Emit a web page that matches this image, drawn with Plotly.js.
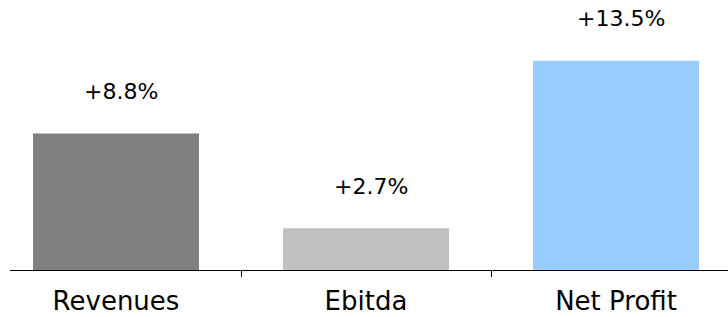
<!DOCTYPE html>
<html>
<head>
<meta charset="utf-8">
<script src="https://cdn.plot.ly/plotly-3.0.1.min.js"></script>
<style>html,body{margin:0;padding:0;background:#fff;}#chart{width:728px;height:317px;}</style>
</head>
<body>
<div id="chart"></div>
<script>
const categories = ["Revenues", "Ebitda", "Net Profit"];
const growthValues = [8.8, 2.7, 13.5];
const growthLabels = ["+8.8%", "+2.7%", "+13.5%"];
const barColors = ["#808080", "#c0c0c0", "#99ccff"];

const trace = {
  type: "bar",
  x: categories,
  y: growthValues,
  width: 0.664,
  marker: {color: barColors, line: {width: 0}},
  hoverinfo: "none"
};

const annotations = categories.map((c, i) => ({
  x: c, y: growthValues[i], xref: "x", yref: "y",
  text: growthLabels[i], showarrow: false,
  yanchor: "middle", yshift: 42, xshift: 5,
  font: {family: "DejaVu Sans, sans-serif", size: 22, color: "#000"}
}));

const layout = {
  width: 728, height: 317,
  margin: {l: 10, r: 0, t: 0, b: 47},
  paper_bgcolor: "#fff", plot_bgcolor: "#fff",
  showlegend: false,
  xaxis: {
    type: "category",
    range: [-0.424, 2.448],
    tickson: "boundaries",
    ticks: "outside", ticklen: 6, tickwidth: 1, tickcolor: "#000",
    ticklabelstandoff: 8,
    showline: true, linecolor: "#000", linewidth: 1,
    showgrid: false, zeroline: false,
    tickfont: {family: "DejaVu Sans, sans-serif", size: 26, color: "#000"},
    fixedrange: true
  },
  yaxis: {
    range: [0, 270 / 15.5],
    visible: false, showgrid: false, zeroline: false, fixedrange: true
  },
  annotations: annotations
};

Plotly.newPlot("chart", [trace], layout, {displayModeBar: false, staticPlot: true});
</script>
</body>
</html>
